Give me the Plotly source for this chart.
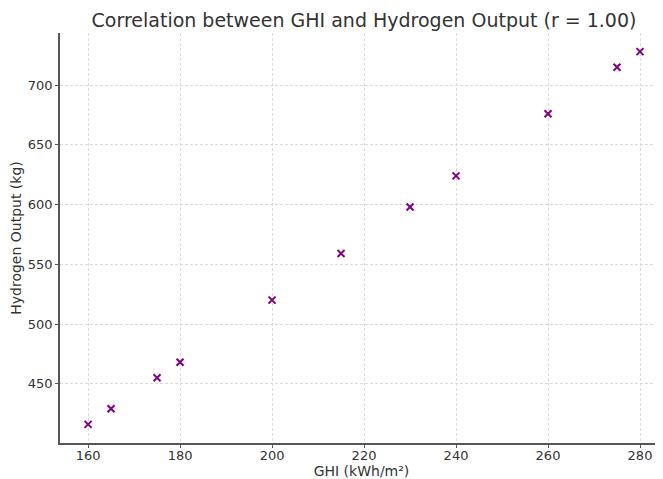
import plotly.graph_objects as go

ghi = [160, 165, 175, 180, 200, 215, 230, 240, 260, 275, 280]
hydrogen = [416, 429, 455, 468, 520, 559, 598, 624, 676, 715, 728]
x_ticks = [160, 180, 200, 220, 240, 260, 280]
y_ticks = [450, 500, 550, 600, 650, 700]

# the page body has an 8px margin; size the figure so it fits the window
W, H = 655, 471
fig = go.Figure()
fig.add_trace(go.Scatter(
    x=ghi, y=hydrogen, mode="markers",
    marker=dict(symbol="x-thin", size=7, color="purple",
                line=dict(width=2, color="purple")),
))

fig.update_layout(
    width=W, height=H,
    margin=dict(l=52, r=0, t=25, b=36, autoexpand=False),
    paper_bgcolor="white", plot_bgcolor="white",
    font=dict(family="DejaVu Sans", size=13, color="#333333"),
    showlegend=False,
    title=dict(text="Correlation between GHI and Hydrogen Output (r = 1.00)",
               x=(364 - 8) / W, xanchor="center",
               y=1 - (20 - 8) / H, yanchor="middle",
               font=dict(size=19, color="#333333")),
)
fig.update_xaxes(
    range=[153.9, 285.0], tickvals=x_ticks,
    showgrid=True, gridcolor="#dadada", griddash="3px,2px", gridwidth=0.8,
    showline=True, linecolor="#555555", linewidth=1.5,
    ticks="outside", ticklen=3, tickcolor="#555555", tickwidth=1,
    ticklabelstandoff=-3,
    zeroline=False, automargin=False,
    title=dict(text="GHI (kWh/m²)", font=dict(size=14), standoff=1),
)
fig.update_yaxes(
    range=[400.4, 743.6], tickvals=y_ticks,
    showgrid=True, gridcolor="#dadada", griddash="3px,2px", gridwidth=0.8,
    showline=True, linecolor="#555555", linewidth=1.5,
    ticks="outside", ticklen=3, tickcolor="#555555", tickwidth=1,
    zeroline=False, automargin=False,
    title=dict(text="Hydrogen Output (kg)", font=dict(size=14), standoff=6),
)

fig.write_html("out.html")
